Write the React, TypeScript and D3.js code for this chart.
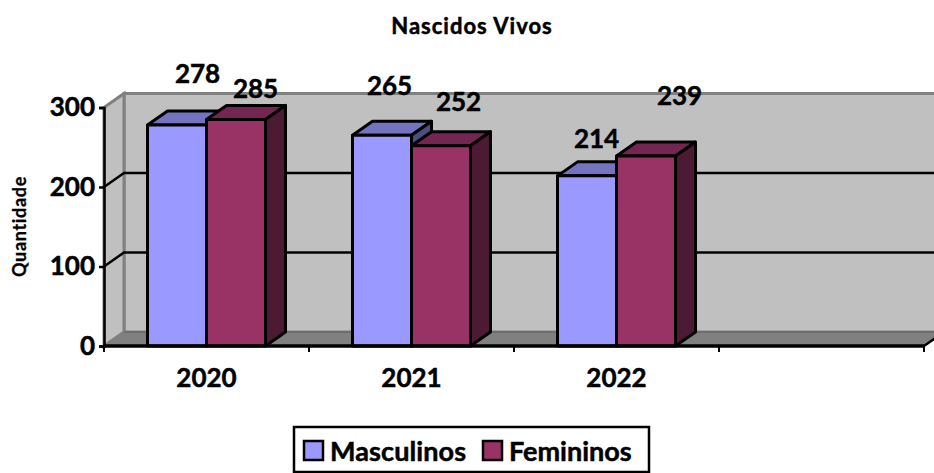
import React, { useEffect, useRef } from 'react';
import * as d3 from 'd3';

const categories = ['2020', '2021', '2022', ' '];
const seriesNames = ['Masculinos', 'Femininos'];
const masculinos = [278, 265, 214];
const femininos = [285, 252, 239];
const yTicks = [0, 100, 200, 300];

const colors = ['#9999ff', '#993366'];
const topColors = ['#7373bf', '#732650'];
const sideColors = ['#4d4d80', '#4d1a33'];

const WIDTH = 934;
const HEIGHT = 473;
const FONT = 'Lato, "Open Sans", sans-serif';

// 3d depth of the chart box
const DX = 20;
const DY = -14;

const x = d3.scaleBand<string>().domain(categories).range([104, 924]);
const series = d3.scaleBand<string>().domain(seriesNames).range([43.5, 161.5]);
const y = d3.scaleLinear().domain([0, 300]).range([346, 107.5]);

// manual label nudges, the original labels float around the bars
const labelNudge = [
  [[-9, -42], [-10, -21]],
  [[-22, -40], [-12, -35]],
  [[-20, -28], [4, -51]],
];

const pts = (p: number[][]) => p.map((d) => d.join(',')).join(' ');

const heavy = { stroke: '#000', strokeWidth: 0.5 };

export default function App() {
  const yAxisRef = useRef<SVGGElement>(null);
  const xAxisRef = useRef<SVGGElement>(null);

  useEffect(() => {
    const yAxis = d3.axisLeft(y).tickValues(yTicks).tickSize(5).tickPadding(4);
    const yg = d3.select(yAxisRef.current).call(yAxis as any);
    yg.selectAll('path').attr('stroke', '#000').attr('stroke-width', 2.5);
    yg.selectAll('line').attr('stroke', '#000').attr('stroke-width', 2.5);
    yg.selectAll('text')
      .attr('font-family', FONT)
      .attr('font-size', 26)
      .attr('font-weight', 700)
      .attr('fill', '#000')
      .attr('stroke', '#000')
      .attr('stroke-width', 0.5);

    const xAxis = d3.axisBottom(x).tickSize(0).tickPadding(23);
    const xg = d3.select(xAxisRef.current).call(xAxis as any);
    xg.selectAll('path').remove();
    xg.selectAll('text')
      .attr('font-family', FONT)
      .attr('font-size', 26)
      .attr('font-weight', 700)
      .attr('fill', '#000')
      .attr('stroke', '#000')
      .attr('stroke-width', 0.5);
  }, []);

  const x0 = x.range()[0];
  const x1 = x.range()[1];
  const y0 = y(0);
  const yTop = y(300);
  const bw = series.bandwidth();

  return (
    <svg
      width={WIDTH}
      height={HEIGHT}
      style={{ position: 'absolute', left: 0, top: 0, display: 'block', background: '#fff' }}
    >
      {/* walls */}
      <polygon
        points={pts([[x0 + DX, yTop + DY], [x1 + DX, yTop + DY], [x1 + DX, y0 + DY], [x0 + DX, y0 + DY]])}
        fill="#c0c0c0"
        stroke="#808080"
        strokeWidth={3}
      />
      <polygon
        points={pts([[x0, yTop], [x0 + DX, yTop + DY], [x0 + DX, y0 + DY], [x0, y0]])}
        fill="#c0c0c0"
        stroke="#808080"
        strokeWidth={3}
      />
      <polygon
        points={pts([[x0, y0], [x0 + DX, y0 + DY], [x1 + DX, y0 + DY], [x1, y0]])}
        fill="#808080"
      />
      <line x1={x0 + DX} x2={x1 + DX} y1={y0 + DY} y2={y0 + DY} stroke="#6e6e6e" strokeWidth={2} />

      {/* gridlines */}
      {yTicks.filter((t) => t > 0 && t < 300).map((t) => (
        <polyline
          key={t}
          points={pts([[x0, y(t)], [x0 + DX, y(t) + DY], [x1 + DX, y(t) + DY]])}
          fill="none"
          stroke="#000"
          strokeWidth={2.5}
        />
      ))}

      {/* bars */}
      {seriesNames.map((name, si) =>
        (si === 0 ? masculinos : femininos).map((v, i) => {
          const left = x(categories[i])! + series(name)!;
          const right = left + bw;
          const top = y(v);
          return (
            <g key={name + i} stroke="#000" strokeWidth={3} strokeLinejoin="round">
              <polygon
                points={pts([[left, top], [left + DX, top + DY], [right + DX, top + DY], [right, top]])}
                fill={topColors[si]}
              />
              <polygon
                points={pts([[right, top], [right + DX, top + DY], [right + DX, y0 + DY], [right, y0]])}
                fill={sideColors[si]}
              />
              <rect x={left} y={top} width={bw} height={y0 - top} fill={colors[si]} />
            </g>
          );
        })
      )}

      {/* axes */}
      <g ref={yAxisRef} transform={`translate(${x0},0)`} />
      <line x1={x0} x2={x1} y1={y0} y2={y0} stroke="#000" strokeWidth={3.5} />
      <polyline points={pts([[x1, y0], [x1 + DX, y0 + DY]])} fill="none" stroke="#000" strokeWidth={2.5} />
      {d3.range(categories.length + 1).map((i) => {
        const tx = x0 + i * x.step();
        return <line key={i} x1={tx} x2={tx} y1={y0} y2={y0 + 6} stroke="#000" strokeWidth={2} />;
      })}
      <g ref={xAxisRef} transform={`translate(0,${y0})`} />

      {/* value labels */}
      {seriesNames.map((name, si) =>
        (si === 0 ? masculinos : femininos).map((v, i) => (
          <text
            key={name + i}
            x={x(categories[i])! + series(name)! + bw + labelNudge[i][si][0]}
            y={y(v) + labelNudge[i][si][1]}
            textAnchor="middle"
            fontFamily={FONT}
            fontSize={26}
            fontWeight={700}
            {...heavy}
          >
            {v}
          </text>
        ))
      )}

      <text x={472} y={34} textAnchor="middle" fontFamily={FONT} fontSize={22} fontWeight={700} letterSpacing={1} {...heavy}>
        Nascidos Vivos
      </text>
      <text
        transform="translate(26,226.5) rotate(-90)"
        textAnchor="middle"
        fontFamily={FONT}
        fontSize={18}
        fontWeight={700}
        letterSpacing={0.7}
        stroke="#000"
        strokeWidth={0.3}
      >
        Quantidade
      </text>

      {/* legend */}
      <rect x={294} y={427} width={355} height={45} fill="#fff" stroke="#000" strokeWidth={2.5} />
      <rect x={304} y={441} width={19} height={19} fill={colors[0]} stroke="#000" strokeWidth={2.5} />
      <text x={330} y={461} fontFamily={FONT} fontSize={27} fontWeight={700} letterSpacing={0.1} {...heavy}>
        {seriesNames[0]}
      </text>
      <rect x={483} y={441} width={19} height={19} fill={colors[1]} stroke="#000" strokeWidth={2.5} />
      <text x={509} y={461} fontFamily={FONT} fontSize={27} fontWeight={700} {...heavy}>
        {seriesNames[1]}
      </text>
    </svg>
  );
}
